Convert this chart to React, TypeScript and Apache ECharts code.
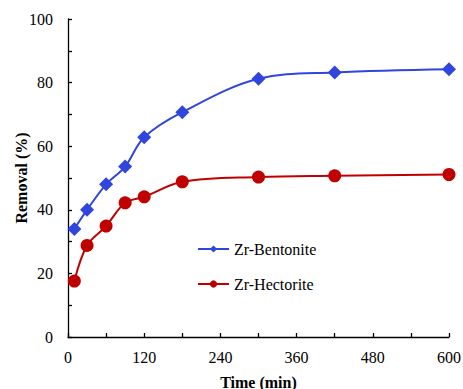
import React, { useEffect, useRef } from "react";
import * as echarts from "echarts";

const timeMin = [10, 30, 60, 90, 120, 180, 300, 420, 600];
const bentonite = [34.0, 40.0, 48.0, 53.6, 62.8, 70.7, 81.2, 83.2, 84.2];
const hectorite = [17.6, 28.8, 34.9, 42.2, 44.1, 48.8, 50.3, 50.7, 51.1];
const seriesNames = ["Zr-Bentonite", "Zr-Hectorite"];

const FONT = "Times New Roman, Liberation Serif, serif";

export default function App() {
  const ref = useRef<HTMLDivElement>(null);
  useEffect(() => {
    document.body.style.margin = "0";
    const chart = echarts.init(ref.current!, undefined, { renderer: "svg" });
    const axisCommon = {
      axisLine: { show: true, lineStyle: { color: "#000", width: 1.3 } },
      axisTick: { show: true, inside: true, length: 4, lineStyle: { color: "#000", width: 1.3 } },
      minorTick: { show: true, splitNumber: 2, length: 4, lineStyle: { color: "#000", width: 1.3 } },
      splitLine: { show: false },
      axisLabel: { color: "#000", fontFamily: FONT, fontSize: 16 },
      nameTextStyle: { color: "#000", fontFamily: FONT, fontSize: 16, fontWeight: "bold" },
      nameMoveOverlap: false,
    };
    chart.setOption({
      animation: false,
      backgroundColor: "#fff",
      textStyle: { fontFamily: FONT },
      grid: { left: 68, top: 19, right: 14, bottom: 52, containLabel: false, outerBoundsMode: "none" },
      legend: {
        show: true,
        orient: "vertical",
        left: 192,
        top: 236,
        itemWidth: 31,
        itemHeight: 9,
        itemGap: 19,
        textStyle: { color: "#000", fontFamily: FONT, fontSize: 16 },
        data: seriesNames,
      },
      xAxis: {
        type: "value",
        min: 0,
        max: 600,
        interval: 120,
        name: "Time (min)",
        nameLocation: "middle",
        nameGap: 37,
        ...axisCommon,
        axisLabel: { ...axisCommon.axisLabel, margin: 12 },
      },
      yAxis: {
        type: "value",
        min: 0,
        max: 100,
        interval: 20,
        name: "Removal (%)",
        nameLocation: "middle",
        nameGap: 39,
        ...axisCommon,
        axisLabel: { ...axisCommon.axisLabel, margin: 15 },
      },
      series: [
        {
          name: seriesNames[0],
          type: "line",
          data: timeMin.map((t, i) => [t, bentonite[i]]),
          smooth: 0.35,
          symbol: "diamond",
          symbolSize: 14,
          itemStyle: { color: "#2f45de" },
          lineStyle: { color: "#2f45de", width: 2 },
        },
        {
          name: seriesNames[1],
          type: "line",
          data: timeMin.map((t, i) => [t, hectorite[i]]),
          smooth: 0.35,
          symbol: "circle",
          symbolSize: 13,
          itemStyle: { color: "#c00000" },
          lineStyle: { color: "#c00000", width: 2 },
        },
      ],
    });
    return () => chart.dispose();
  }, []);
  return <div ref={ref} style={{ width: 463, height: 389 }} />;
}
